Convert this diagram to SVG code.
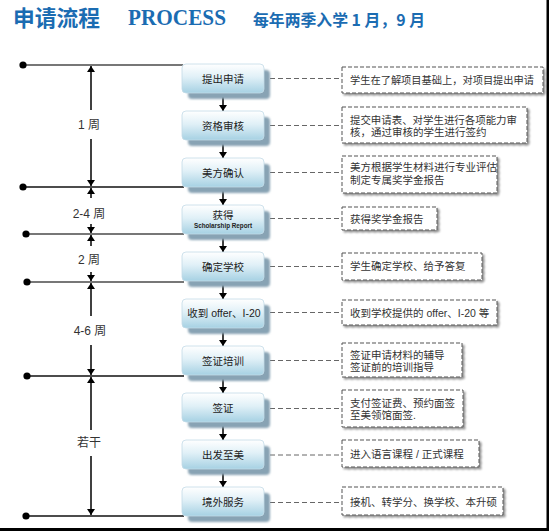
<svg xmlns="http://www.w3.org/2000/svg" width="549" height="531" viewBox="0 0 549 531">
<defs>
<linearGradient id="ng" x1="0" y1="0" x2="0" y2="1">
<stop offset="0" stop-color="#ffffff"/>
<stop offset="0.45" stop-color="#e0f0f7"/>
<stop offset="1" stop-color="#a6d1e3"/>
</linearGradient>
<filter id="blur1" x="-10%" y="-10%" width="120%" height="130%">
<feGaussianBlur stdDeviation="1"/>
</filter>
<filter id="bsh" x="-10%" y="-20%" width="120%" height="150%">
<feGaussianBlur in="SourceAlpha" stdDeviation="1.2"/>
<feOffset dx="2" dy="2" result="b"/>
<feComponentTransfer><feFuncA type="linear" slope="0.45"/></feComponentTransfer>
<feMerge><feMergeNode/><feMergeNode in="SourceGraphic"/></feMerge>
</filter>
<marker id="ah" viewBox="0 0 6 8" refX="6" refY="4" markerWidth="6" markerHeight="8" markerUnits="userSpaceOnUse" orient="auto">
<path d="M0,0 L6,4 L0,8 z" fill="#000"/>
</marker>
</defs>
<style>
.node rect.sh{fill:#88a3b4;filter:url(#blur1)}
.node rect.bx{fill:url(#ng);stroke:#c3dbe7;stroke-width:0.8}
.nt{font-family:"Liberation Sans","Noto Sans CJK SC",sans-serif;font-size:10.5px;fill:#222;text-anchor:middle}
.box rect{fill:#fff;stroke:#555;stroke-width:1;stroke-dasharray:4 2;filter:url(#bsh)}
.bt{font-family:"Liberation Sans","Noto Sans CJK SC",sans-serif;font-size:10.5px;fill:#333}
.dl{stroke:#666;stroke-width:1;stroke-dasharray:5 3;fill:none}
.tg{stroke:#777;stroke-width:2}
.tb{stroke:#111;stroke-width:1.6}
.va{stroke:#000;stroke-width:1.5;marker-end:url(#ah)}
.na{stroke:#000;stroke-width:1.5;marker-end:url(#ah)}
.lb{font-family:"Liberation Sans","Noto Sans CJK SC",sans-serif;font-size:12px;fill:#333;text-anchor:middle}
</style>
<rect width="549" height="531" fill="#fff"/>
<rect x="546.5" y="0" width="2.5" height="531" fill="#000"/>
<rect x="0" y="528" width="549" height="3" fill="#000"/>

<g id="title">
<text x="13" y="26" font-family="Noto Sans CJK SC,sans-serif" font-weight="700" font-size="22" fill="#1b6cb2" textLength="87" lengthAdjust="spacingAndGlyphs">申请流程</text>
<text x="128" y="25" font-family="Liberation Serif,serif" font-weight="700" font-size="24" fill="#1b6cb2" textLength="98" lengthAdjust="spacingAndGlyphs">PROCESS</text>
<text x="253" y="26" font-family="Noto Sans CJK SC,sans-serif" font-weight="700" font-size="16" fill="#1b6cb2" textLength="172" lengthAdjust="spacingAndGlyphs">每年两季入学 1 月，9 月</text>
</g>

<g id="timeline">
<line class="tg" x1="23" y1="65" x2="183" y2="65"/>
<line class="tb" x1="23" y1="187" x2="184" y2="187"/>
<line class="tg" x1="26" y1="234" x2="184" y2="234"/>
<line class="tg" x1="27" y1="282" x2="184" y2="282"/>
<line class="tb" x1="27" y1="376" x2="184" y2="376"/>
<line class="tb" x1="26" y1="516" x2="184" y2="516"/>
<circle cx="23" cy="65" r="3.6" fill="#000"/>
<circle cx="23" cy="187" r="3.6" fill="#000"/>
<circle cx="26" cy="234" r="3.6" fill="#000"/>
<circle cx="27" cy="282" r="3.6" fill="#000"/>
<circle cx="27" cy="376" r="3.6" fill="#000"/>
<circle cx="26" cy="516" r="3.6" fill="#000"/>
<line class="va" x1="91" y1="110" x2="91" y2="66"/>
<line class="va" x1="91" y1="139" x2="91" y2="186"/>
<line class="va" x1="91" y1="198" x2="91" y2="188"/>
<line class="va" x1="91" y1="224" x2="91" y2="233"/>
<line class="va" x1="91" y1="246" x2="91" y2="235"/>
<line class="va" x1="91" y1="272" x2="91" y2="281"/>
<line class="va" x1="91" y1="316" x2="91" y2="283"/>
<line class="va" x1="91" y1="345" x2="91" y2="375"/>
<line class="va" x1="91" y1="430" x2="91" y2="377"/>
<line class="va" x1="91" y1="456" x2="91" y2="515"/>
<text class="lb" x="89" y="129">1 周</text>
<text class="lb" x="89" y="218">2-4 周</text>
<text class="lb" x="89" y="264">2 周</text>
<text class="lb" x="90" y="335">4-6 周</text>
<text class="lb" x="89" y="447">若干</text>
</g>

<g id="connectors">
<line class="na" x1="223" y1="93" x2="223" y2="111"/>
<line class="na" x1="223" y1="140" x2="223" y2="158"/>
<line class="na" x1="223" y1="187" x2="223" y2="205"/>
<line class="na" x1="223" y1="234" x2="223" y2="252"/>
<line class="na" x1="223" y1="281" x2="223" y2="299"/>
<line class="na" x1="223" y1="328" x2="223" y2="346"/>
<line class="na" x1="223" y1="375" x2="223" y2="393"/>
<line class="na" x1="223" y1="422" x2="223" y2="440"/>
<line class="na" x1="223" y1="469" x2="223" y2="487"/>
<line class="dl" x1="270" y1="78.5" x2="342" y2="78.5"/>
<line class="dl" x1="270" y1="125.5" x2="342" y2="125.5"/>
<line class="dl" x1="270" y1="172.5" x2="342" y2="172.5"/>
<line class="dl" x1="270" y1="218.5" x2="342" y2="218.5"/>
<line class="dl" x1="270" y1="266.5" x2="342" y2="266.5"/>
<line class="dl" x1="270" y1="312.5" x2="342" y2="312.5"/>
<line class="dl" x1="270" y1="360.5" x2="342" y2="360.5"/>
<line class="dl" x1="270" y1="408.5" x2="342" y2="408.5"/>
<line class="dl" x1="270" y1="455" x2="342" y2="455"/>
<line class="dl" x1="270" y1="502.5" x2="342" y2="502.5"/>
</g>

<g id="n1" class="node"><rect class="sh" x="188" y="70" width="82" height="29" rx="4"/><rect class="bx" x="182" y="64" width="82" height="29" rx="4"/><text class="nt" x="223" y="82.5">提出申请</text></g>
<g id="n2" class="node"><rect class="sh" x="188" y="117" width="82" height="29" rx="4"/><rect class="bx" x="182" y="111" width="82" height="29" rx="4"/><text class="nt" x="223" y="129.5">资格审核</text></g>
<g id="n3" class="node"><rect class="sh" x="188" y="164" width="82" height="29" rx="4"/><rect class="bx" x="182" y="158" width="82" height="29" rx="4"/><text class="nt" x="223" y="176.5">美方确认</text></g>
<g id="n4" class="node"><rect class="sh" x="188" y="211" width="82" height="29" rx="4"/><rect class="bx" x="182" y="205" width="82" height="29" rx="4"/><text class="nt" x="223" y="219">获得</text><text x="223" y="228" font-family="Liberation Sans,Arial,sans-serif" font-weight="700" font-size="6.3" fill="#222" text-anchor="middle">Scholarship Report</text></g>
<g id="n5" class="node"><rect class="sh" x="188" y="258" width="82" height="29" rx="4"/><rect class="bx" x="182" y="252" width="82" height="29" rx="4"/><text class="nt" x="223" y="270.5">确定学校</text></g>
<g id="n6" class="node"><rect class="sh" x="188" y="305" width="82" height="29" rx="4"/><rect class="bx" x="182" y="299" width="82" height="29" rx="4"/><text class="nt" x="224" y="317" font-size="9">收到 offer、I-20</text></g>
<g id="n7" class="node"><rect class="sh" x="188" y="352" width="82" height="29" rx="4"/><rect class="bx" x="182" y="346" width="82" height="29" rx="4"/><text class="nt" x="223" y="364.5">签证培训</text></g>
<g id="n8" class="node"><rect class="sh" x="188" y="399" width="82" height="29" rx="4"/><rect class="bx" x="182" y="393" width="82" height="29" rx="4"/><text class="nt" x="223" y="411.5">签证</text></g>
<g id="n9" class="node"><rect class="sh" x="188" y="446" width="82" height="29" rx="4"/><rect class="bx" x="182" y="440" width="82" height="29" rx="4"/><text class="nt" x="223" y="458.5">出发至美</text></g>
<g id="n10" class="node"><rect class="sh" x="188" y="493" width="82" height="29" rx="4"/><rect class="bx" x="182" y="487" width="82" height="29" rx="4"/><text class="nt" x="223" y="505.5">境外服务</text></g>

<g id="b1" class="box"><rect x="342" y="67" width="201" height="26"/><text class="bt" x="350" y="83.5" textLength="184" lengthAdjust="spacingAndGlyphs">学生在了解项目基础上，对项目提出申请</text></g>
<g id="b2" class="box"><rect x="342" y="107" width="185" height="36"/><text class="bt" x="350" y="123.5" textLength="167" lengthAdjust="spacingAndGlyphs">提交申请表、对学生进行各项能力审</text><text class="bt" x="350" y="136">核，通过审核的学生进行签约</text></g>
<g id="b3" class="box"><rect x="342" y="156" width="155" height="37"/><text class="bt" x="350" y="171">美方根据学生材料进行专业评估</text><text class="bt" x="350" y="183.5">制定专属奖学金报告</text></g>
<g id="b4" class="box"><rect x="342" y="207" width="95" height="23"/><text class="bt" x="350" y="222.5">获得奖学金报告</text></g>
<g id="b5" class="box"><rect x="342" y="253" width="140" height="27"/><text class="bt" x="350" y="270">学生确定学校、给予答复</text></g>
<g id="b6" class="box"><rect x="342" y="300" width="155" height="25"/><text class="bt" x="350" y="316.5">收到学校提供的 offer、I-20 等</text></g>
<g id="b7" class="box"><rect x="342" y="343" width="120" height="34"/><text class="bt" x="350" y="358.5">签证申请材料的辅导</text><text class="bt" x="350" y="371">签证前的培训指导</text></g>
<g id="b8" class="box"><rect x="342" y="390" width="121" height="37"/><text class="bt" x="350" y="406.5">支付签证费、预约面签</text><text class="bt" x="350" y="419">至美领馆面签.</text></g>
<g id="b9" class="box"><rect x="342" y="440" width="137" height="27"/><text class="bt" x="350" y="458">进入语言课程 / 正式课程</text></g>
<g id="b10" class="box"><rect x="342" y="487" width="161" height="28"/><text class="bt" x="350" y="505.5">接机、转学分、换学校、本升硕</text></g>
</svg>
